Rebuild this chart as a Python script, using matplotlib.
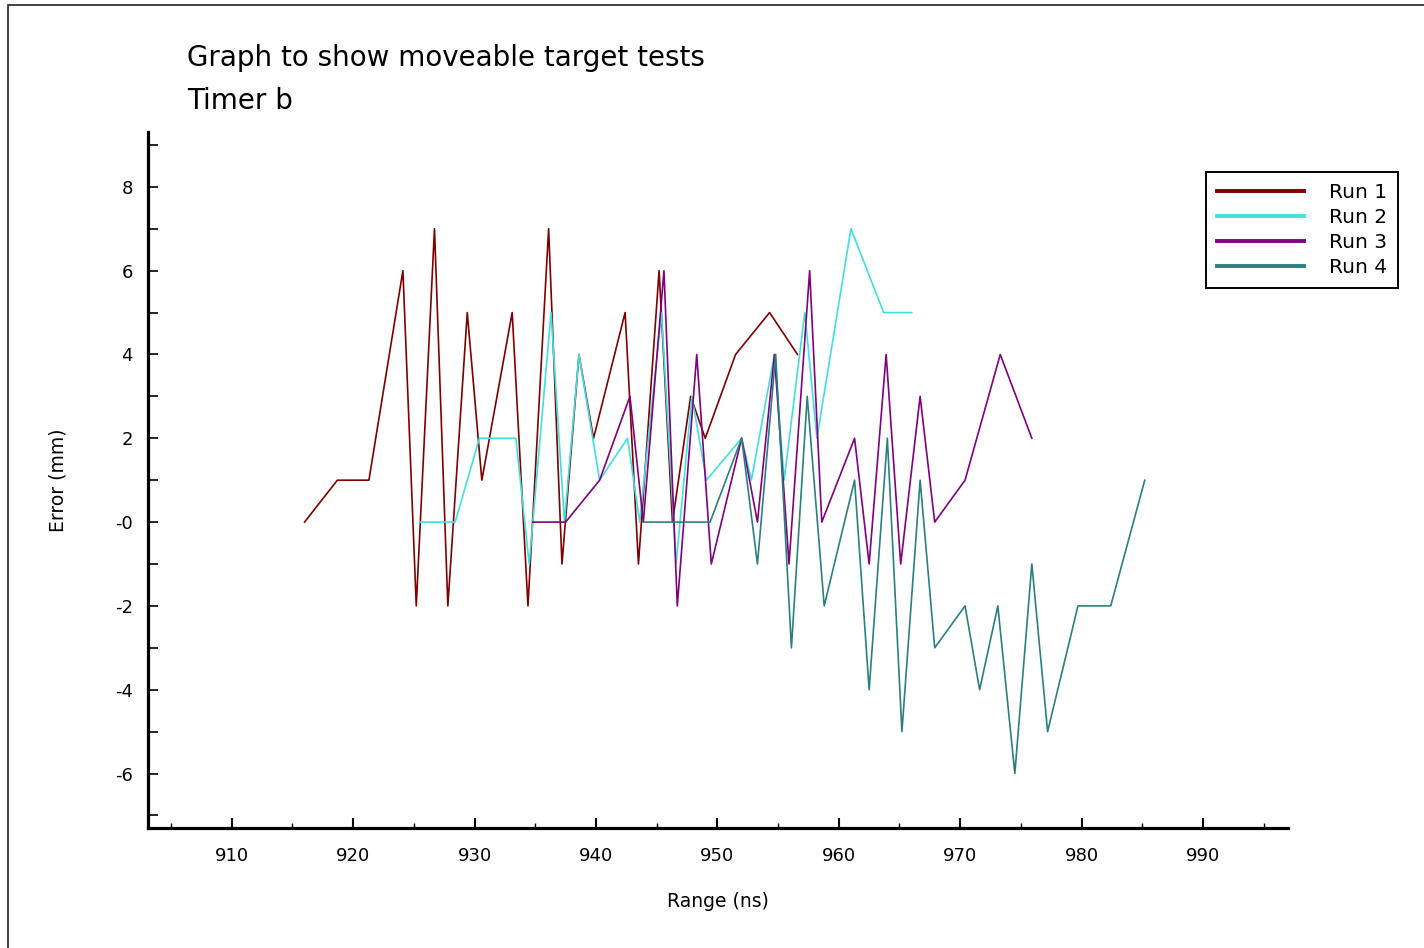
import matplotlib
matplotlib.use("Agg")
import matplotlib.pyplot as plt
from matplotlib.patches import Rectangle
from matplotlib.ticker import MultipleLocator, FixedLocator, FixedFormatter

# values
run1_range = [916.0, 918.7, 921.3, 924.1, 925.2, 926.7, 927.8, 929.4, 930.6, 933.1,
              934.4, 936.1, 937.2, 938.6, 939.8, 942.4, 943.5, 945.2, 946.3, 947.8,
              949.0, 951.5, 954.3, 956.6]
run1_error = [0, 1, 1, 6, -2, 7, -2, 5, 1, 5,
              -2, 7, -1, 4, 2, 5, -1, 6, 0, 3,
              2, 4, 5, 4]

run2_range = [925.5, 928.4, 930.4, 933.4, 934.5, 936.3, 937.4, 938.6, 940.3, 942.6,
              943.6, 945.4, 946.6, 947.9, 949.1, 952.0, 952.8, 954.7, 955.5, 957.2,
              958.2, 961.0, 963.7, 966.0]
run2_error = [0, 0, 2, 2, -1, 5, 0, 4, 1, 2,
              0, 5, -1, 3, 1, 2, 1, 4, 1, 5,
              2, 7, 5, 5]

run3_range = [934.8, 937.5, 940.3, 942.8, 943.9, 945.6, 946.7, 948.3, 949.5, 952.0,
              953.3, 954.7, 955.9, 957.6, 958.6, 961.3, 962.5, 963.9, 965.1, 966.7,
              967.9, 970.4, 973.3, 975.9]
run3_error = [0, 0, 1, 3, 0, 6, -2, 4, -1, 2,
              0, 4, -1, 6, 0, 2, -1, 4, -1, 3,
              0, 1, 4, 2]

run4_range = [943.9, 949.4, 952.0, 953.3, 954.8, 956.1, 957.4, 958.8, 961.3, 962.5,
              964.0, 965.2, 966.7, 967.9, 970.4, 971.6, 973.1, 974.5, 975.9, 977.2,
              979.7, 982.4, 985.2]
run4_error = [0, 0, 2, -1, 4, -3, 3, -2, 1, -4,
              2, -5, 1, -3, -2, -4, -2, -6, -1, -5,
              -2, -2, 1]

run_names = ["Run 1", "Run 2", "Run 3", "Run 4"]
run_colors = ["#800000", "#40E0E0", "#800080", "#2A8080"]

y_ticks = [-6, -4, -2, 0, 2, 4, 6, 8]
y_tick_labels = ["-6", "-4", "-2", "-0", "2", "4", "6", "8"]
x_ticks = [910, 920, 930, 940, 950, 960, 970, 980, 990]

fig = plt.figure(figsize=(14.24, 9.48), dpi=100)
fig.patch.set_facecolor("white")
ax = fig.add_axes([0.1039, 0.1266, 0.8006, 0.7342])

series = [(run1_range, run1_error), (run2_range, run2_error),
          (run3_range, run3_error), (run4_range, run4_error)]
for (xs, ys), name, col in zip(series, run_names, run_colors):
    ax.plot(xs, ys, color=col, linewidth=1.2, label=name)

ax.set_xlim(903.1, 997.0)
ax.set_ylim(-7.3, 9.31)

for side in ["top", "right"]:
    ax.spines[side].set_visible(False)
for side in ["left", "bottom"]:
    ax.spines[side].set_linewidth(2.3)

ax.xaxis.set_major_locator(FixedLocator(x_ticks))
ax.xaxis.set_minor_locator(MultipleLocator(5))
ax.yaxis.set_major_locator(FixedLocator(y_ticks))
ax.yaxis.set_major_formatter(FixedFormatter(y_tick_labels))
ax.yaxis.set_minor_locator(MultipleLocator(1))

ax.tick_params(axis="x", which="major", direction="in", length=7, width=1.5,
               pad=14, labelsize=13)
ax.tick_params(axis="x", which="minor", direction="in", length=3.5, width=1)
ax.tick_params(axis="y", which="both", direction="in", length=7, width=1.2,
               pad=11, labelsize=13)

ax.set_xlabel("Range (ns)", fontsize=13.5, labelpad=19)
ax.set_ylabel("Error (mm)", fontsize=13.5, labelpad=34)

fig.text(187 / 1424, 1 - 58 / 948, "Graph to show moveable target tests",
         fontsize=20, va="center", ha="left")
fig.text(187 / 1424, 1 - 101 / 948, "Timer b", fontsize=20, va="center", ha="left")

leg = ax.legend(loc="upper left", bbox_to_anchor=(1206 / 1424, 1 - 172 / 948),
                bbox_transform=fig.transFigure, borderaxespad=0, fontsize=14.5,
                fancybox=False, framealpha=1, edgecolor="black",
                handlelength=4.3, handletextpad=1.25, labelspacing=0.3,
                borderpad=0.55)
leg.get_frame().set_linewidth(1.4)
for line in leg.get_lines():
    line.set_linewidth(2.8)

# thin frame round the picture
fig.patches.append(Rectangle((8 / 1424, -0.02), 1.0, 1 - 5 / 948 + 0.02,
                             transform=fig.transFigure, fill=False,
                             edgecolor="#222222", linewidth=1.2))

fig.savefig("out.png", dpi=100)
